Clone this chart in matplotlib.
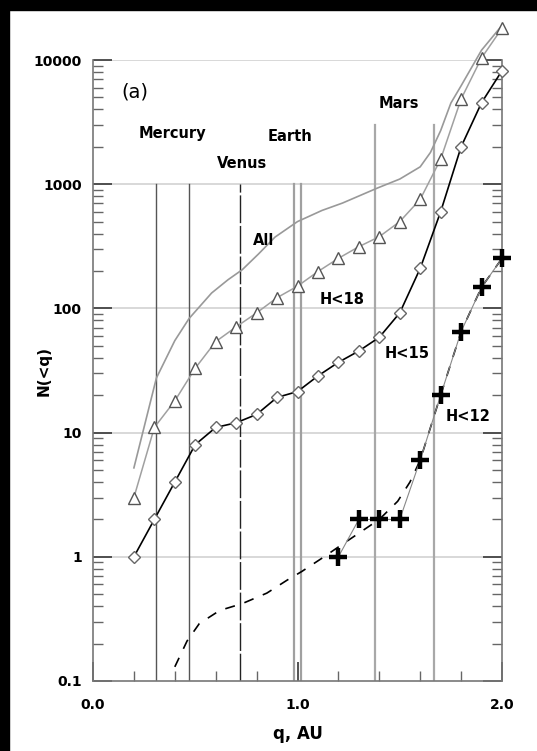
import numpy as np
import matplotlib.pyplot as plt
from matplotlib.patches import Rectangle
from matplotlib.ticker import LogLocator, MultipleLocator, FixedLocator

# ---- data ----
q_pts = [0.2, 0.3, 0.4, 0.5, 0.6, 0.7, 0.8, 0.9, 1.0, 1.1,
         1.2, 1.3, 1.4, 1.5, 1.6, 1.7, 1.8, 1.9, 2.0]
n_h18 = [3, 11, 18, 33, 54, 71, 92, 122, 151, 198,
         253, 314, 378, 500, 755, 1590, 4850, 10400, 18000]
n_h15 = [1, 2, 4, 8, 11, 12, 14, 19.2, 21.4, 28.6,
         36.8, 45.4, 58.5, 92, 210, 600, 2000, 4530, 8200]

q_h12 = [1.2, 1.3, 1.4, 1.5, 1.6, 1.7, 1.8, 1.9, 2.0]
n_h12 = [1, 2, 2, 2, 6, 20, 65, 148, 253]

q_all = [0.2, 0.31, 0.4, 0.47, 0.58, 0.66, 0.73, 0.81, 0.89, 1.0, 1.12,
         1.22, 1.39, 1.5, 1.6, 1.65, 1.7, 1.75, 1.8, 1.9, 2.0]
n_all = [5.2, 27.5, 55, 83, 133, 170, 205, 275, 375, 500, 615,
         705, 930, 1100, 1380, 1800, 2700, 4500, 6200, 12000, 19000]

q_model = [0.4, 0.46, 0.52, 0.62, 0.73, 0.85, 0.95, 1.02, 1.13,
           1.2, 1.31, 1.4, 1.49, 1.55, 1.6, 1.7, 1.8, 1.9, 2.0]
n_model = [0.13, 0.21, 0.29, 0.37, 0.42, 0.51, 0.65, 0.76, 1.0,
           1.2, 1.59, 2.0, 2.8, 4.0, 6, 20, 65, 148, 253]

# planet perihelion / aphelion distances
mercury = [0.307, 0.467]
venus = [0.72]
earth = [0.983, 1.017]
mars = [1.381, 1.666]

# ---- plotting ----
fig = plt.figure(figsize=(5.37, 7.51), dpi=100)
fig.patches.append(Rectangle((0, 751 - 10), 537, 10, transform=None,
                             color='black', zorder=-5))
fig.patches.append(Rectangle((0, 0), 9, 751, transform=None,
                             color='black', zorder=-5))
ax = fig.add_axes([93 / 537, 70 / 751, 409 / 537, 621 / 751])

ax.set_yscale('log')
ax.set_xlim(0, 2)
ax.set_ylim(0.1, 10000)

# horizontal grid
for g in [1, 10, 100, 1000, 10000]:
    ax.axhline(g, color='#d8d8d8', lw=1.4, zorder=0)

# planet lines
for x in mercury:
    ax.plot([x, x], [0.1, 1000], color='#555555', lw=1.0, zorder=1)
for x in venus:
    ax.plot([x, x], [0.1, 1000], color='#222222', lw=1.0,
            linestyle=(0, (20, 2)), zorder=1)
for x in earth:
    ax.plot([x, x], [0.1, 1000], color='#a0a0a0', lw=1.6, zorder=1)
for x in mars:
    ax.plot([x, x], [0.1, 3000], color='#a8a8a8', lw=1.6, zorder=1)

# curves
ax.plot(q_all, n_all, color='#999999', lw=1.2, zorder=2, clip_on=False)
ax.plot(q_model, n_model, color='black', lw=1.2,
        linestyle=(0, (6, 6)), zorder=2)
ax.plot(q_pts, n_h18, color='#a0a0a0', lw=1.1, marker='^', ms=9,
        mfc='white', mec='#555555', mew=1.0, zorder=3, clip_on=False)
ax.plot(q_pts, n_h15, color='black', lw=1.2, marker='D', ms=6,
        mfc='white', mec='#666666', mew=1.0, zorder=4, clip_on=False)
ax.plot(q_h12, n_h12, color='#888888', lw=0.8, marker='+', ms=13,
        mec='black', mew=3.2, zorder=5, clip_on=False)

# text labels
bold = dict(fontsize=10.5, fontweight='bold', ha='center', va='center')
ax.text(0.205, 5520, '(a)', fontsize=14, ha='center', va='center')
ax.text(0.388, 2580, 'Mercury', **bold)
ax.text(0.73, 1480, 'Venus', **bold)
ax.text(0.963, 2400, 'Earth', **bold)
ax.text(1.496, 4500, 'Mars', **bold)
ax.text(0.836, 355, 'All', **bold)
ax.text(1.218, 119, 'H<18', **bold)
ax.text(1.535, 43, 'H<15', **bold)
ax.text(1.834, 13.4, 'H<12', **bold)

# axes styling
ax.spines['top'].set_visible(False)
for s in ['left', 'right', 'bottom']:
    ax.spines[s].set_color('#777777')
    ax.spines[s].set_linewidth(1.2)

ax.yaxis.set_major_locator(FixedLocator([0.1, 1, 10, 100, 1000, 10000]))
ax.yaxis.set_minor_locator(LogLocator(base=10, subs=np.arange(2, 10), numticks=20))
ax.set_yticklabels(['0.1', '1', '10', '100', '1000', '10000'])
ax.xaxis.set_major_locator(FixedLocator([0, 1, 2]))
ax.xaxis.set_minor_locator(MultipleLocator(0.2))
ax.set_xticklabels(['0.0', '1.0', '2.0'])

ax.tick_params(which='major', direction='in', length=14, width=1.3,
               color='#444444', right=True, labelsize=10, pad=8)
ax.tick_params(which='minor', direction='in', length=7, width=1.0,
               color='#666666', right=True)
ax.tick_params(axis='x', which='major', pad=12)
for lab in ax.get_xticklabels() + ax.get_yticklabels():
    lab.set_fontweight('bold')

ax.set_xlabel('q, AU', fontsize=12, fontweight='bold')
ax.xaxis.set_label_coords(0.5, -0.071)
ax.set_ylabel('N(<q)', fontsize=11, fontweight='bold')
ax.yaxis.set_label_coords(-0.1, 0.5)

plt.savefig('out.png', dpi=100)
